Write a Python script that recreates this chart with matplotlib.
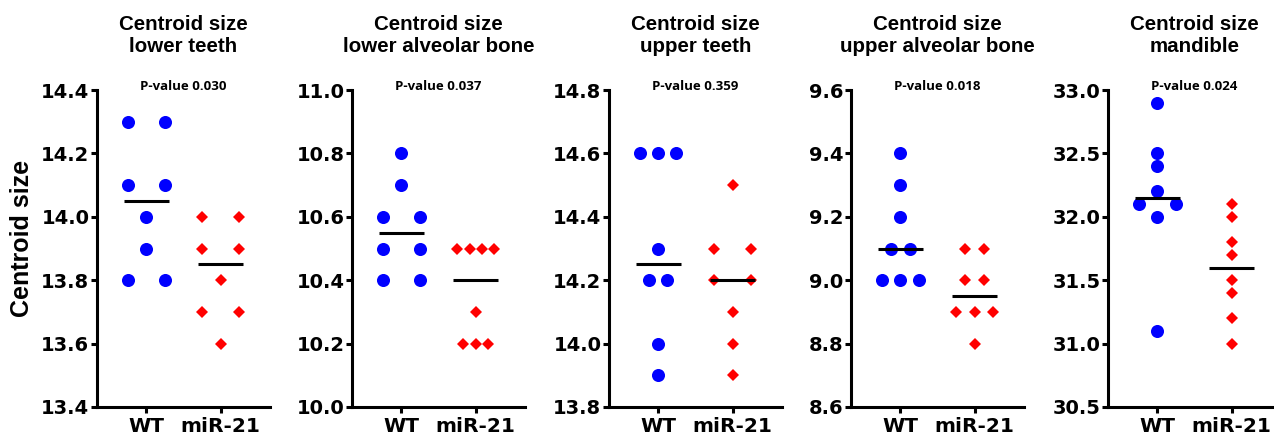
import numpy as np
import matplotlib
matplotlib.use("Agg")
import matplotlib.pyplot as plt

# data
groups = ["WT", "miR-21"]
panel_titles = ["Centroid size\nlower teeth",
                "Centroid size\nlower alveolar bone",
                "Centroid size\nupper teeth",
                "Centroid size\nupper alveolar bone",
                "Centroid size\nmandible"]
p_values = ["0.030", "0.037", "0.359", "0.018", "0.024"]

lower_teeth_wt = [14.3, 14.3, 14.1, 14.1, 14.0, 13.9, 13.8, 13.8]
lower_teeth_mir = [14.0, 14.0, 13.9, 13.9, 13.8, 13.7, 13.7, 13.6]
lower_bone_wt = [10.8, 10.7, 10.6, 10.6, 10.5, 10.5, 10.4, 10.4]
lower_bone_mir = [10.5, 10.5, 10.5, 10.5, 10.3, 10.2, 10.2, 10.2]
upper_teeth_wt = [14.6, 14.6, 14.6, 14.3, 14.2, 14.2, 14.0, 13.9]
upper_teeth_mir = [14.5, 14.3, 14.3, 14.2, 14.2, 14.1, 14.0, 13.9]
upper_bone_wt = [9.4, 9.3, 9.2, 9.1, 9.1, 9.0, 9.0, 9.0]
upper_bone_mir = [9.1, 9.1, 9.0, 9.0, 8.9, 8.9, 8.9, 8.8]
mandible_wt = [32.9, 32.5, 32.4, 32.2, 32.1, 32.1, 32.0, 31.1]
mandible_mir = [32.1, 32.0, 31.8, 31.7, 31.5, 31.4, 31.2, 31.0]

y_ranges = [(13.4, 14.4, 0.2), (10.0, 11.0, 0.2), (13.8, 14.8, 0.2),
            (8.6, 9.6, 0.2), (30.5, 33.0, 0.5)]

panels = [(lower_teeth_wt, lower_teeth_mir),
          (lower_bone_wt, lower_bone_mir),
          (upper_teeth_wt, upper_teeth_mir),
          (upper_bone_wt, upper_bone_mir),
          (mandible_wt, mandible_mir)]

# horizontal spacing between tied points (style, per group)
spread = [(0.5, 0.5), (0.5, 0.165), (0.245, 0.5), (0.25, 0.25), (0.5, 0.5)]


def tie_offsets(vals, step):
    vals = np.asarray(vals)
    off = np.zeros(len(vals))
    for v in np.unique(vals):
        idx = np.where(np.isclose(vals, v))[0]
        n = len(idx)
        off[idx] = step * (np.arange(n) - (n - 1) / 2)
    return off


W, H = 1274, 442
fig = plt.figure(figsize=(W / 100, H / 100), dpi=100)

lefts = [97, 352, 609, 851, 1108]
ax_w, ax_top, ax_bot = 173, 90, 407

title_font = dict(family="Liberation Sans", weight="bold", size=14.8)
tick_font = dict(family="DejaVu Sans", weight="bold")

for i, (wt, mir) in enumerate(panels):
    ax = fig.add_axes([lefts[i] / W, 1 - ax_bot / H, ax_w / W, (ax_bot - ax_top) / H])
    lo, hi, step = y_ranges[i]

    for g, (vals, color, marker, ms) in enumerate([(wt, "#0000FF", "o", 9.4),
                                                     (mir, "#FF0000", "D", 6.2)]):
        x = g + tie_offsets(vals, spread[i][g])
        ax.plot(x, vals, linestyle="none", marker=marker, markersize=ms,
                color=color, markeredgewidth=0, zorder=3)
        med = np.median(vals)
        ax.plot([g - 0.3, g + 0.3], [med, med], color="black", lw=2.2, zorder=4,
                solid_capstyle="butt")

    ax.set_xlim(-0.66, 1.66)
    ax.set_ylim(lo, hi)
    ax.set_yticks(np.arange(lo, hi + step / 2, step))
    ax.set_yticklabels([f"{v:.1f}" for v in np.arange(lo, hi + step / 2, step)], **tick_font, size=14)
    ax.set_xticks([0, 1])
    ax.set_xticklabels(groups, **tick_font, size=14.5)

    for s in ["top", "right"]:
        ax.spines[s].set_visible(False)
    for s in ["left", "bottom"]:
        ax.spines[s].set_linewidth(2.2)
    ax.tick_params(axis="y", direction="out", length=4.5, width=2.2, pad=1)
    ax.tick_params(axis="x", direction="out", length=4.5, width=2.2, pad=3)

    cx = (lefts[i] + ax_w / 2) / W
    fig.text(cx, 1 - 15 / H, panel_titles[i], ha="center", va="top",
             linespacing=1.2, **title_font)
    ax.text(0.5, 1.0, "P-value " + p_values[i], transform=ax.transAxes,
            ha="center", va="baseline", family="Open Sans", weight="bold", size=9.5)

fig.text(22 / W, 1 - 238 / H, "Centroid size", rotation=90, ha="center", va="center",
         family="Liberation Sans", weight="bold", size=18)

fig.savefig("out.png", dpi=100)
